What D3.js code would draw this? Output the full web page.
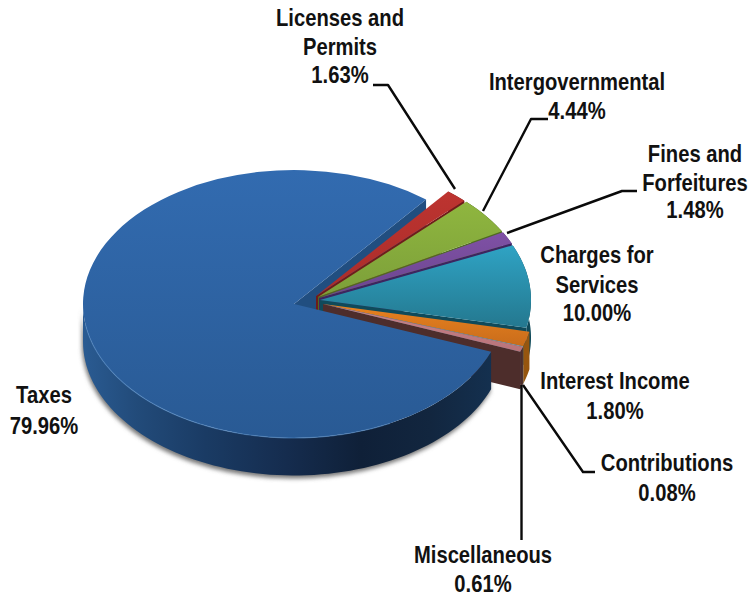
<!DOCTYPE html>
<html>
<head>
<meta charset="utf-8">
<script src="https://cdn.jsdelivr.net/npm/d3@7/dist/d3.min.js"></script>
<style>
  html, body { margin: 0; padding: 0; background: #fff; }
  svg { display: block; }
  text { font-family: "Liberation Sans", Arial, sans-serif; font-weight: bold; font-size: 23.5px; fill: #111; }
</style>
</head>
<body>
<svg id="chart" width="748" height="596"></svg>
<script>
// Revenue sources, percent of total
const categories = ["Taxes", "Licenses and Permits", "Intergovernmental", "Fines and Forfeitures",
  "Charges for Services", "Interest Income", "Contributions", "Miscellaneous"];
const shares = [79.96, 1.63, 4.44, 1.48, 10.00, 1.80, 0.08, 0.61];

// Colour of each slice: top face (upper, lower), side wall
const faceUpper = ["#326bb0", "#bd3430", "#8fb63f", "#7f51a5", "#2fa3c4", "#e8821f", "#7ea4c4", "#c8838a"];
const faceLower = ["#295a94", "#a92c2a", "#7c9f39", "#6b458f", "#24788f", "#c96c1b", "#7ea4c4", "#b9747a"];
const wallTone  = ["#214e80", "#6f1c1a", "#4f6a22", "#3d2560", "#0f4a5a", "#96560f", "#4d6a80", "#4d2d2b"];

// Wrapped label lines and where they sit
const labelLines = [["Taxes"], ["Licenses and", "Permits"], ["Intergovernmental"], ["Fines and", "Forfeitures"],
  ["Charges for", "Services"], ["Interest Income"], ["Contributions"], ["Miscellaneous"]];
const labelCentreX = [44, 340, 577, 695, 597, 615, 667, 483];
const labelBaselines = [[403, 434], [26, 55, 83], [90, 119], [162, 191, 218], [263, 293, 321], [389, 419], [471, 501], [563, 592]];

// Leader lines from the labels to their slices
const leaderPaths = [
  null,
  [[373, 85], [388, 85], [455, 189]],
  [[548, 119], [531, 119], [483, 211]],
  [[637, 191], [622, 191], [507, 233]],
  null,
  null,
  [[595, 472], [583, 472], [523, 385]],
  [[521.5, 540], [521.5, 385]]
];

// Pie geometry: each slice has its own apex, since the slices are pulled apart
const radius = 211, squash = 0.635, depth = 37.5;
const apexX = [294, 316, 318, 319, 320, 323, 323, 323];
const apexY = [304, 296, 297, 298, 300, 304, 304, 304];
const pieStart = 110.9 * Math.PI / 180;

const svg = d3.select("#chart");
const defs = svg.append("defs");

const slices = d3.pie().value(d => d).sort(null)
  .startAngle(pieStart).endAngle(pieStart + 2 * Math.PI)(shares);

const arc = d3.arc().innerRadius(0).outerRadius(radius);
const rim = (a, i, drop = 0) => [
  apexX[i] + radius * Math.sin(a),
  apexY[i] - radius * squash * Math.cos(a) + drop
];

// Outline of the outer wall between two pie angles
function outerWall(i, a0, a1) {
  const step = (a1 - a0) / 80;
  const angles = d3.range(81).map(k => a0 + k * step);
  const pts = angles.map(a => rim(a, i)).concat(angles.slice().reverse().map(a => rim(a, i, depth)));
  return d3.line()(pts) + "Z";
}

// Wall of a radial cut at angle a
function cutWall(i, a) {
  const apex = [apexX[i], apexY[i]];
  return d3.line()([apex, rim(a, i), rim(a, i, depth), [apex[0], apex[1] + depth]]) + "Z";
}

// Vertical shading of the top faces
shares.forEach((_, i) => {
  const g = defs.append("linearGradient").attr("id", "face" + i)
    .attr("x1", 0).attr("y1", 0).attr("x2", 0).attr("y2", 1);
  g.append("stop").attr("offset", 0).attr("stop-color", faceUpper[i]);
  g.append("stop").attr("offset", 1).attr("stop-color", faceLower[i]);
});

// Horizontal shading of the big slice's rounded side
const sideStops = [[0, "#2a5b92"], [0.13, "#224b7a"], [0.3, "#1a3b64"], [0.5, "#152c4e"], [0.68, "#0f2038"], [0.85, "#12263f"], [1, "#14304f"]];
const sideGrad = defs.append("linearGradient").attr("id", "sideTaxes")
  .attr("gradientUnits", "userSpaceOnUse")
  .attr("x1", apexX[0] - radius).attr("x2", apexX[0] + 198).attr("y1", 0).attr("y2", 0);
sideStops.forEach(s => sideGrad.append("stop").attr("offset", s[0]).attr("stop-color", s[1]));

defs.append("filter").attr("id", "softShadow")
  .attr("x", "-5%").attr("y", "-5%").attr("width", "110%").attr("height", "115%")
  .append("feGaussianBlur").attr("stdDeviation", 2);

const pieLayer = svg.append("g");
const taxes = slices[0];
const taxesEnd = taxes.endAngle;

// Soft shadow below the big slice's side
pieLayer.append("path")
  .attr("d", outerWall(0, taxes.startAngle, 1.5 * Math.PI))
  .attr("transform", "translate(-1,3)")
  .attr("fill", "#777")
  .attr("filter", "url(#softShadow)");

// Exposed wall of the big slice's upper cut
pieLayer.append("path").attr("d", cutWall(0, taxesEnd)).attr("fill", wallTone[0]);

// The small slices, far to near, each with its visible walls and then its top
slices.slice(1).forEach((s, n) => {
  const i = n + 1;
  pieLayer.append("path").attr("d", outerWall(i, s.startAngle, s.endAngle)).attr("fill", wallTone[i]);
  pieLayer.append("path").attr("d", cutWall(i, s.endAngle)).attr("fill", wallTone[i]);
  pieLayer.append("path")
    .attr("d", arc(s))
    .attr("transform", `translate(${apexX[i]},${apexY[i]}) scale(1,${squash})`)
    .attr("fill", `url(#face${i})`);
});

// The big slice sits in front of everything else
pieLayer.append("path")
  .attr("d", outerWall(0, taxes.startAngle, 1.5 * Math.PI))
  .attr("fill", "url(#sideTaxes)");
pieLayer.append("path")
  .attr("d", arc(taxes))
  .attr("transform", `translate(${apexX[0]},${apexY[0]}) scale(1,${squash})`)
  .attr("fill", "url(#face0)");

// Thin bright edge where the top meets the side
pieLayer.append("path")
  .attr("d", d3.line()(d3.range(81).map(k => rim(Math.PI + (k / 80 - 0.25) * Math.PI * 0.6, 0))))
  .attr("fill", "none").attr("stroke", "#4f86c2").attr("stroke-width", 1.2).attr("stroke-opacity", 0.6);

// Leader lines
svg.append("g").selectAll("path")
  .data(leaderPaths.filter(Boolean))
  .join("path")
  .attr("d", d3.line())
  .attr("fill", "none").attr("stroke", "#0a0a0a").attr("stroke-width", 2.4).attr("stroke-linejoin", "round");

// Labels: name lines followed by the share
const labelLayer = svg.append("g").attr("text-anchor", "middle");
categories.forEach((_, i) => {
  const lines = labelLines[i].concat(d3.format(".2f")(shares[i]) + "%");
  lines.forEach((line, j) => {
    labelLayer.append("text")
      .attr("transform", `translate(${labelCentreX[i]},${labelBaselines[i][j]}) scale(0.86,1)`)
      .text(line);
  });
});
</script>
</body>
</html>
